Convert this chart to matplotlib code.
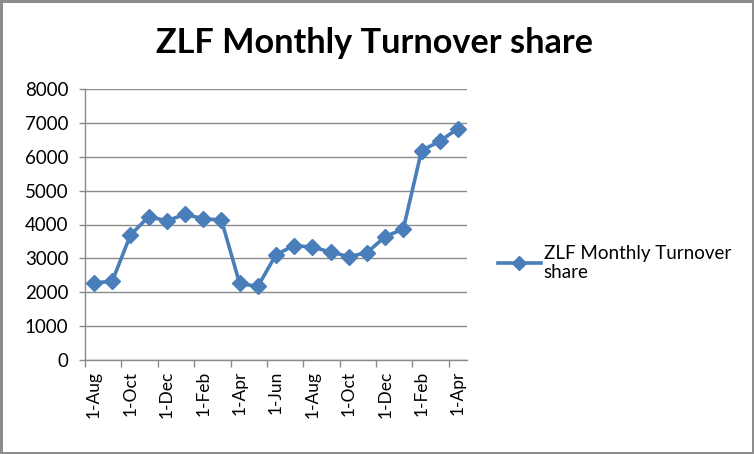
import matplotlib
matplotlib.use("Agg")
import matplotlib.pyplot as plt
import numpy as np

months = ["1-Aug", "1-Sep", "1-Oct", "1-Nov", "1-Dec", "1-Jan", "1-Feb", "1-Mar",
          "1-Apr", "1-May", "1-Jun", "1-Jul", "1-Aug", "1-Sep", "1-Oct", "1-Nov",
          "1-Dec", "1-Jan", "1-Feb", "1-Mar", "1-Apr"]
turnover = [2270, 2330, 3690, 4230, 4110, 4300, 4170, 4130, 2260, 2170, 3110,
            3380, 3330, 3190, 3050, 3170, 3640, 3870, 6180, 6460, 6830]
series_name = "ZLF Monthly Turnover share"
title = "ZLF Monthly Turnover share"
yticks = [0, 1000, 2000, 3000, 4000, 5000, 6000, 7000, 8000]

plt.rcParams['font.family'] = ['Lato', 'DejaVu Sans']

W, H = 754, 454
fig = plt.figure(figsize=(W / 100, H / 100), dpi=100)
fig.patch.set_facecolor("white")
fig.patch.set_edgecolor("#8c8c8c")
fig.patch.set_linewidth(2.5)

ax = fig.add_axes([85 / W, 1 - 360 / H, (467 - 85) / W, (360 - 89) / H])
x = np.arange(len(months))
color = "#4A7EBB"
ax.plot(x, turnover, color=color, lw=2.6, marker="D", markersize=8,
        markeredgecolor=color, markerfacecolor=color, label=series_name,
        clip_on=False, zorder=3)

ax.set_xlim(-0.5, len(months) - 0.5)
ax.set_ylim(0, 8000)
ax.set_yticks(yticks)
ax.set_yticklabels([str(v) for v in yticks])
ax.yaxis.grid(True, color="#8a8a8a", lw=1)
ax.set_axisbelow(True)

ax.set_xticks(x[::2])
ax.set_xticklabels([months[i] for i in x[::2]], rotation=90)
ax.set_xticks(np.arange(-0.5, len(months) - 1, 2), minor=True)
ax.tick_params(axis="x", which="major", length=0, pad=8, labelsize=12.5)
ax.tick_params(axis="x", which="minor", length=5, color="#8a8a8a", width=1)
ax.tick_params(axis="y", length=4, color="#8a8a8a", width=1, pad=8, labelsize=13.5)
ax.tick_params(labelcolor="#000000")

for s in ["top", "right"]:
    ax.spines[s].set_visible(False)
for s in ["left", "bottom"]:
    ax.spines[s].set_color("#8a8a8a")
    ax.spines[s].set_linewidth(1)

fig.text(375 / W, 1 - 43 / H, title, ha="center", va="center",
         fontsize=24.7, fontweight="bold")

leg = fig.legend(loc="center left", bbox_to_anchor=(481 / W, 1 - 263 / H),
                 frameon=False, fontsize=13.5, handlelength=2.3,
                 handletextpad=0.15, markerscale=0.85,
                 labels=["ZLF Monthly Turnover\nshare"],
                 handles=ax.get_lines())

fig.savefig("out.png", dpi=100, facecolor=fig.get_facecolor(),
            edgecolor=fig.get_edgecolor())
